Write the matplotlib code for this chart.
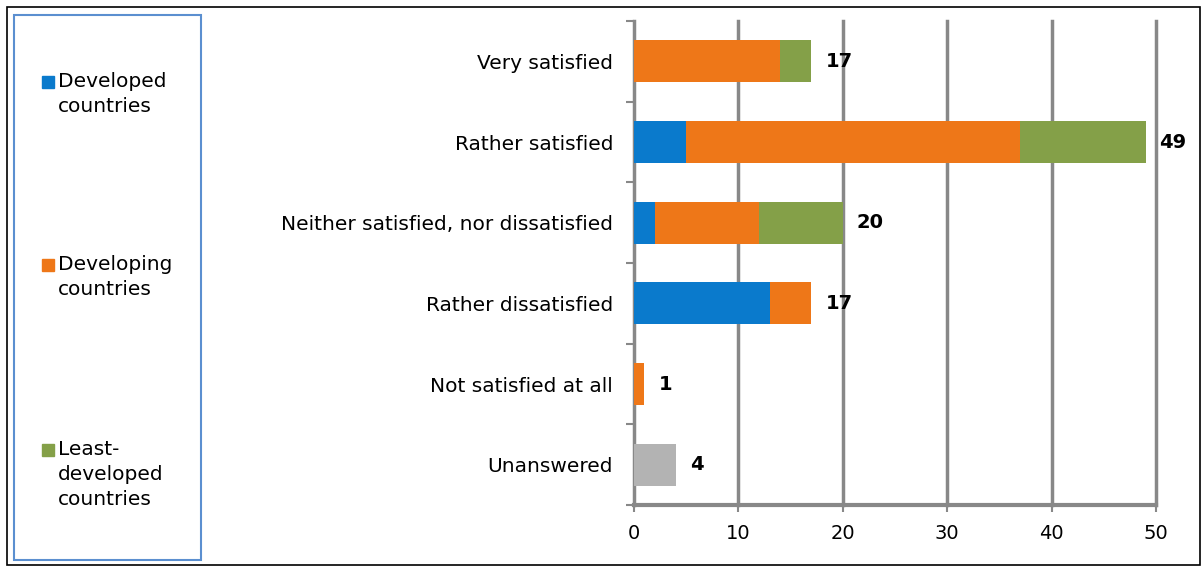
import matplotlib
matplotlib.use("Agg")
import matplotlib.pyplot as plt
from matplotlib.patches import Rectangle
import numpy as np

categories = ["Very satisfied", "Rather satisfied", "Neither satisfied, nor dissatisfied",
              "Rather dissatisfied", "Not satisfied at all", "Unanswered"]
developed = [0, 5, 2, 13, 0, 0]
developing = [14, 32, 10, 4, 1, 0]
least_developed = [3, 12, 8, 0, 0, 0]
unanswered = [0, 0, 0, 0, 0, 4]
totals = [17, 49, 20, 17, 1, 4]

series_names = ["Developed\ncountries", "Developing\ncountries", "Least-\ndeveloped\ncountries"]
colors = ["#0A7ACC", "#EE7718", "#84A048"]
gray = "#B3B3B3"

W, H = 1203, 568
fig = plt.figure(figsize=(W / 100, H / 100), dpi=100)
plt.rcParams['font.family'] = ['DejaVu Sans']

def fx(px):
    return px / W

def fy(py):
    return 1 - py / H

ax = fig.add_axes([fx(634), fy(505), fx(1156) - fx(634), fy(21) - fy(505)])

y = np.arange(len(categories))
h = 0.52
left = np.zeros(len(categories))
for vals, col in zip([developed, developing, least_developed], colors):
    v = np.array(vals, dtype=float)
    ax.barh(y, v, left=left, height=h, color=col, edgecolor="none", zorder=3)
    left += v
ax.barh(y, unanswered, left=left, height=h, color=gray, edgecolor="none", zorder=3)

for yi, t in zip(y, totals):
    ax.annotate(str(t), xy=(t, yi), xytext=(10, 0), textcoords="offset points",
                va="center", ha="left", fontsize=14, fontweight="bold", zorder=4)

ax.set_xlim(0, 50)
ax.set_ylim(len(categories) - 0.5, -0.5)
ax.set_xticks([0, 10, 20, 30, 40, 50])
ax.set_yticks(y)
ax.set_yticklabels(categories, fontsize=14.5)
ax.set_yticks(np.arange(-0.5, len(categories), 1), minor=True)
ax.tick_params(axis="y", which="major", length=0, pad=15)
ax.tick_params(axis="y", which="minor", length=6, width=1.5, color="#888888")
ax.tick_params(axis="x", labelsize=14, length=5, width=1.5, color="#888888", pad=9)
ax.xaxis.grid(True, color="#888888", linewidth=2.5, zorder=0)
for gl in ax.get_xgridlines():
    gl.set_clip_on(False)
ax.set_axisbelow(True)
for s in ["top", "right"]:
    ax.spines[s].set_visible(False)
ax.spines["left"].set_color("#888888")
ax.spines["left"].set_linewidth(2)
ax.spines["bottom"].set_color("#888888")
ax.spines["bottom"].set_linewidth(3)

# outer frame
fig.add_artist(Rectangle((fx(7), fy(565)), fx(1200) - fx(7), fy(7) - fy(565),
                         transform=fig.transFigure, fill=False, edgecolor="black", linewidth=1.2))
# legend box
fig.add_artist(Rectangle((fx(14), fy(560)), fx(201) - fx(14), fy(15) - fy(560),
                         transform=fig.transFigure, fill=False, edgecolor="#5B8FD0", linewidth=1.5))

legend_tops = [72, 255, 440]
for name, col, top in zip(series_names, colors, legend_tops):
    fig.add_artist(Rectangle((fx(42), fy(top + 16)), fx(12), 12 / H,
                             transform=fig.transFigure, color=col))
    fig.text(fx(58), fy(top), name, fontsize=14.5, va="top", ha="left", linespacing=1.4)

fig.savefig("out.png", dpi=100)
